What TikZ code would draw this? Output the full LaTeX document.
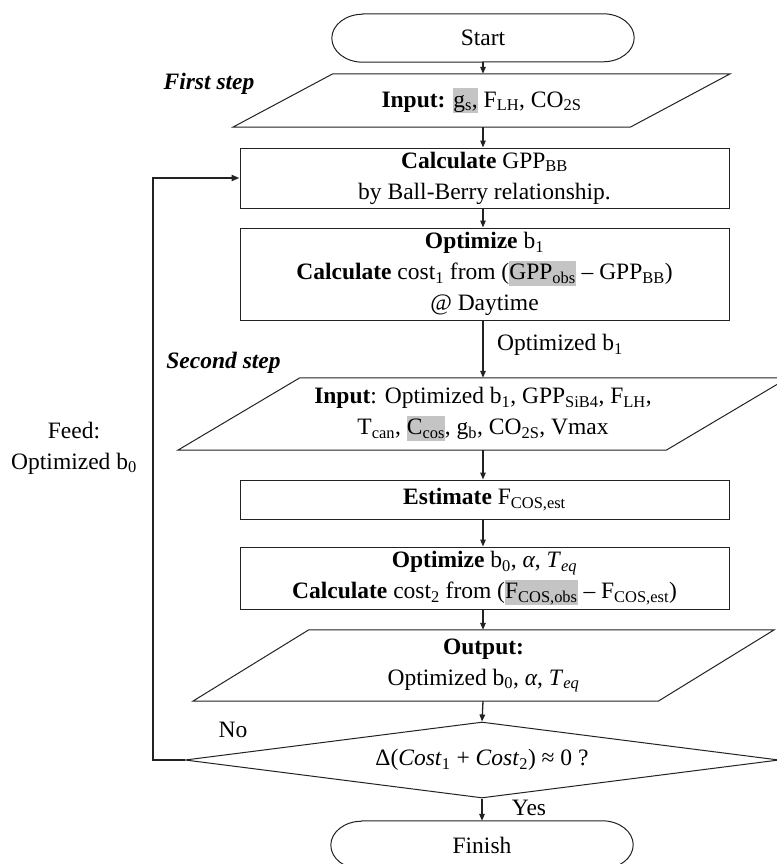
\documentclass[tikz,border=0pt]{standalone}
\usepackage{fontspec}
\setmainfont{Liberation Serif}
\usetikzlibrary{shapes.geometric,arrows.meta}
\definecolor{hlgray}{HTML}{C4C4C4}
\definecolor{ln}{HTML}{222222}
\newcommand{\hlt}[1]{{\setlength{\fboxsep}{0pt}\colorbox{hlgray}{\rule[-6pt]{0pt}{25pt}#1}}}
\newcommand{\sbs}[1]{\textsubscript{#1}}
\newcommand{\aTeq}{\textit{α}, \textit{T}\textsubscript{\textit{eq}}}
\begin{document}
\begin{tikzpicture}[x=1pt,y=-1pt,
  txt/.style={font=\fontsize{23.5}{31}\selectfont, align=center, inner sep=0pt},
  bd/.style={draw=ln, line width=1pt},
  bx/.style={txt, draw=ln, line width=1pt, minimum width=489pt},
  arr/.style={draw=ln, line width=1.3pt, -{Triangle[length=7pt,width=5.5pt]}},
  fbl/.style={draw=ln, line width=2pt, -{Triangle[length=8pt,width=6pt]}},
  stepl/.style={txt, font=\fontsize{23.5}{31}\selectfont\bfseries\itshape}]
\useasboundingbox (0,0) rectangle (776,864);
\coordinate (ax) at (483,0);

% Start
\node[txt, minimum width=302pt, minimum height=48pt] (start) at (483,38) {Start};
\draw[bd] ([xshift=31pt]start.north west) -- ([xshift=-31pt]start.north east)
  arc[start angle=90, end angle=-90, x radius=31pt, y radius=24pt]
  -- ([xshift=31pt]start.south west)
  arc[start angle=270, end angle=90, x radius=31pt, y radius=24pt] -- cycle;

% Input 1
\node[txt, minimum width=397pt, minimum height=53pt] (in1) at (481.5,100.5)
  {\textbf{Input:} \hlt{g\sbs{s},} F\sbs{LH}, CO\sbs{2S}};
\draw[bd] ([xshift=-50pt]in1.south west) -- ([xshift=50pt]in1.north west)
  -- ([xshift=50pt]in1.north east) -- ([xshift=-50pt]in1.south east) -- cycle;

% Calculate
\node[bx, minimum height=60pt] (calc) at (484.5,178)
  {\textbf{Calculate} GPP\sbs{BB}\\by Ball-Berry relationship.};

% Optimize 1
\node[bx, minimum height=92pt] (opt1) at (484.5,274)
  {\textbf{Optimize} b\sbs{1}\\\textbf{Calculate} cost\sbs{1} from (\hlt{GPP\sbs{obs}} -- GPP\sbs{BB})\\@ Daytime};

% Input 2
\node[txt, minimum width=488pt, minimum height=72pt] (in2) at (483,414)
  {\textbf{Input}: Optimized b\sbs{1}, GPP\sbs{SiB4}, F\sbs{LH},\\T\sbs{can}, \hlt{C\sbs{cos}}, g\sbs{b}, CO\sbs{2S}, Vmax};
\draw[bd] ([xshift=-61pt]in2.south west) -- ([xshift=61pt]in2.north west)
  -- ([xshift=61pt]in2.north east) -- ([xshift=-61pt]in2.south east) -- cycle;

% Estimate
\node[bx, minimum height=39pt] (est) at (484.5,499.5)
  {\textbf{Estimate} F\sbs{COS,est}};

% Optimize 2
\node[bx, minimum height=62pt] (opt2) at (484.5,578)
  {\textbf{Optimize} b\sbs{0}, \aTeq\\\textbf{Calculate} cost\sbs{2} from (\hlt{F\sbs{COS,obs}} -- F\sbs{COS,est})};

% Output
\node[txt, minimum width=465pt, minimum height=71pt] (out) at (483.5,665.5)
  {\textbf{Output:}\\Optimized b\sbs{0}, \aTeq};
\draw[bd] ([xshift=-58pt]out.south west) -- ([xshift=58pt]out.north west)
  -- ([xshift=58pt]out.north east) -- ([xshift=-58pt]out.south east) -- cycle;

% Decision
\node[txt, shape=diamond, aspect=7.8, draw=ln, line width=1pt,
  minimum width=594pt, minimum height=76pt] (dec) at (482,760)
  {Δ(\textit{Cost}\sbs{1} + \textit{Cost}\sbs{2}) ≈ 0 ?};

% Finish
\node[txt, minimum width=302pt, minimum height=48pt] (fin) at (482,845) {Finish};
\draw[bd] ([xshift=31pt]fin.north west) -- ([xshift=-31pt]fin.north east)
  arc[start angle=90, end angle=-90, x radius=31pt, y radius=24pt]
  -- ([xshift=31pt]fin.south west)
  arc[start angle=270, end angle=90, x radius=31pt, y radius=24pt] -- cycle;

% Arrows
\draw[arr] (ax |- start.south) -- (ax |- in1.north);
\draw[arr] (ax |- in1.south) -- (ax |- calc.north);
\draw[arr] (ax |- calc.south) -- (ax |- opt1.north);
\draw[arr] (ax |- opt1.south) -- (ax |- in2.north);
\draw[arr] (ax |- in2.south) -- (ax |- est.north);
\draw[arr] (ax |- est.south) -- (ax |- opt2.north);
\draw[arr] (ax |- opt2.south) -- (ax |- out.north);
\draw[arr] (ax |- out.south) -- (dec.north);
\draw[arr] (dec.south) -- (dec.south |- fin.north);

% Feedback
\coordinate (fb) at (153,760);
\draw[fbl] (dec.west) -- (fb) |- (calc.west);

% Labels
\node[stepl] (l1) at (209,84) {First step};
\node[stepl] (l2) at (223.5,363) {Second step};
\node[txt, anchor=west] (lb1) at (497,345) {Optimized b\sbs{1}};
\node[txt] (lfeed) at (74,448) {Feed:\\Optimized b\sbs{0}};
\node[txt] (lno) at (233,730) {No};
\node[txt] (lyes) at (529,808) {Yes};
\end{tikzpicture}
\end{document}
